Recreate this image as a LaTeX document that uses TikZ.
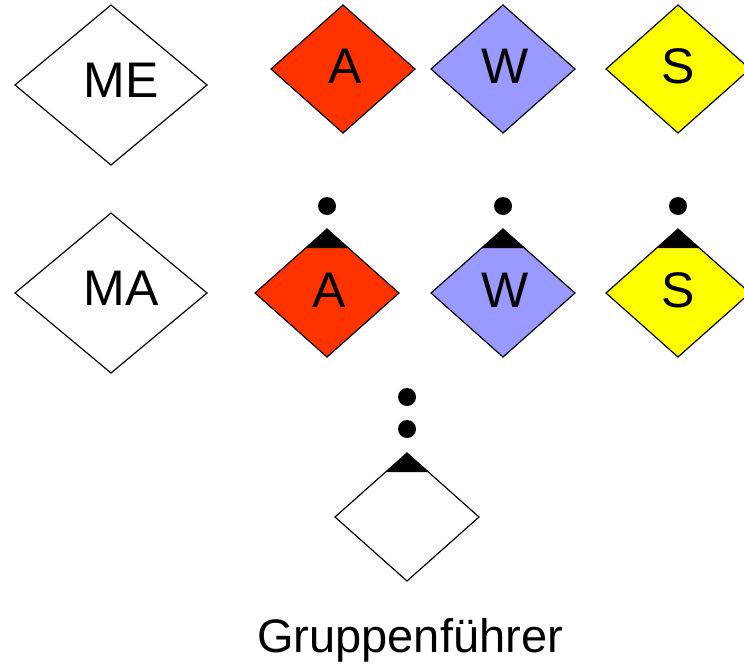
\documentclass[tikz,border=0pt]{standalone}
\usepackage{fontspec}
\setmainfont{Liberation Sans}
\usetikzlibrary{calc,shapes.geometric}
\definecolor{aRed}{HTML}{FF3300}
\definecolor{wBlue}{HTML}{9999FF}
\definecolor{sYellow}{HTML}{FFFF00}
\tikzset{role/.style={diamond, draw, line width=1.2pt, inner sep=0pt, outer sep=0pt, minimum width=144pt, minimum height=128pt, fill=white},
  bigrole/.style={role, minimum width=192pt, minimum height=160pt},
  dot/.style={circle, fill=black, inner sep=0pt, minimum size=18pt},
  tag/.style={font=\fontsize{50}{50}\selectfont}}

\begin{document}
\begin{tikzpicture}[x=1pt,y=-1pt]
    \useasboundingbox (0,0) rectangle (744,664);
    \node[bigrole, label={[tag,xshift=10pt,yshift=5pt]center:ME}] (ME) at (111,85) {};
    \node[bigrole, label={[tag,xshift=10pt,yshift=5pt]center:MA}] (MA) at (111,293) {};
    \node[role, fill=aRed, label={[tag,xshift=2pt,yshift=3pt]center:A}] (A1) at (343,69) {};
    \node[role, fill=wBlue, label={[tag,xshift=2pt,yshift=3pt]center:W}] (W1) at (503,69) {};
    \node[role, fill=sYellow, label={[tag,xshift=0pt,yshift=3pt]center:S}] (S1) at (678,69) {};
    \node[role, fill=aRed, label={[tag,xshift=2pt,yshift=3pt]center:A}] (A2) at (327,293) {};
    \node[role, fill=wBlue, label={[tag,xshift=2pt,yshift=3pt]center:W}] (W2) at (503,293) {};
    \node[role, fill=sYellow, label={[tag,xshift=0pt,yshift=3pt]center:S}] (S2) at (678,293) {};
    \node[role] (G) at (407,517) {};
    % leader marks
    \foreach \n in {A2,W2,S2,G}
        \fill (\n.north) -- ($(\n.north)!0.3!(\n.west)$) -- ($(\n.north)!0.3!(\n.east)$) -- cycle;
    \node[dot] (dA) at (327,206) {};
    \node[dot] (dW) at (503,206) {};
    \node[dot] (dS) at (678,206) {};
    \node[dot] (dG1) at (407,397) {};
    \node[dot] (dG2) at (407,429) {};
    \node[anchor=base, font=\fontsize{47}{47}\selectfont] (GF) at (410,652) {Gruppenführer};
\end{tikzpicture}
\end{document}
